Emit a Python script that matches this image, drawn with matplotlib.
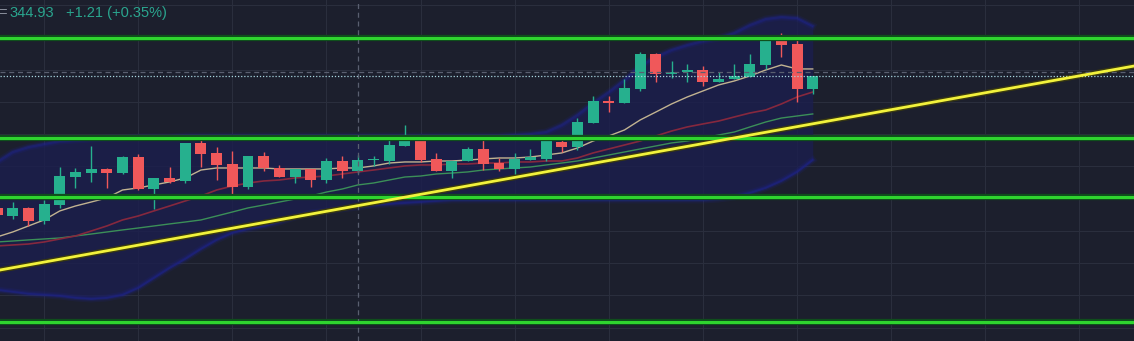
import matplotlib.pyplot as plt

# candles (price units), left to right
opens = [332.64, 331.89, 332.64, 331.42, 332.91, 335.52, 335.89, 336.27, 335.89, 337.38,
         334.40, 335.43, 335.15, 338.69, 337.76, 336.73, 334.59, 337.48, 336.36, 335.52,
         336.27, 335.24, 337.01, 336.08, 337.06, 337.01, 338.41, 338.87, 337.20, 336.08,
         337.01, 338.13, 336.82, 336.27, 337.10, 337.20, 338.78, 338.31, 340.55, 342.60,
         342.41, 343.71, 346.97, 345.11, 345.30, 345.48, 344.37, 344.65, 344.83, 345.95,
         348.46, 347.90, 343.72]
highs = [332.91, 333.19, 332.73, 333.38, 336.45, 336.36, 338.41, 336.36, 337.48, 337.66,
         335.43, 336.45, 338.69, 339.06, 338.31, 337.94, 337.48, 337.85, 336.64, 336.27,
         336.27, 337.29, 337.48, 337.57, 337.48, 338.97, 340.36, 339.34, 337.76, 337.01,
         338.31, 339.15, 337.29, 337.76, 338.13, 339.25, 339.06, 341.01, 343.06, 343.06,
         344.65, 347.16, 347.07, 346.32, 346.04, 345.86, 345.30, 346.04, 346.97, 348.46,
         348.93, 348.37, 344.93]
lows = [331.70, 331.61, 330.96, 331.15, 332.64, 334.50, 335.06, 334.50, 335.80, 334.31,
        332.54, 334.96, 334.96, 336.45, 335.24, 333.66, 334.40, 336.08, 335.52, 334.96,
        334.59, 334.96, 335.43, 335.89, 336.55, 336.73, 338.41, 336.92, 336.08, 335.43,
        337.01, 336.17, 336.08, 335.71, 337.10, 337.01, 337.85, 338.04, 340.55, 341.57,
        342.41, 343.53, 344.37, 344.74, 344.37, 343.99, 344.37, 344.65, 344.83, 345.58,
        346.69, 342.50, 343.25]
closes = [331.98, 332.64, 331.42, 333.01, 335.61, 335.99, 336.27, 335.89, 337.38, 334.40,
          335.43, 335.06, 338.69, 337.66, 336.64, 334.59, 337.48, 336.36, 335.52, 336.27,
          335.24, 337.01, 336.08, 337.10, 337.15, 338.50, 338.87, 337.10, 336.08, 337.01,
          338.13, 336.73, 336.27, 337.20, 337.38, 338.87, 338.31, 340.64, 342.60, 342.41,
          343.81, 346.97, 345.11, 345.30, 345.48, 344.37, 344.65, 344.93, 346.04, 348.46,
          347.81, 343.71, 344.93]

# moving averages
ma_fast = [329.94, 330.40, 330.96, 331.52, 332.36, 332.82, 333.19, 333.57, 334.31, 334.50,
           334.78, 335.06, 335.43, 336.17, 336.36, 336.36, 336.36, 336.36, 336.27, 336.27,
           336.27, 336.27, 336.36, 336.36, 336.55, 336.82, 336.92, 336.92, 337.01, 337.01,
           337.10, 337.20, 337.29, 337.29, 337.38, 337.57, 337.76, 338.22, 338.87, 339.34,
           339.90, 340.83, 341.57, 342.32, 342.97, 343.53, 344.09, 344.46, 344.93, 345.48,
           345.95, 345.58, 345.58]
ma_mid = [329.10, 329.19, 329.28, 329.47, 329.75, 330.03, 330.49, 330.96, 331.52, 331.89,
          332.36, 332.82, 333.29, 333.75, 334.31, 334.68, 334.96, 335.15, 335.24, 335.43,
          335.52, 335.61, 335.80, 335.99, 336.17, 336.36, 336.55, 336.64, 336.64, 336.73,
          336.73, 336.82, 336.82, 336.92, 336.92, 337.01, 337.01, 337.29, 337.76, 338.13,
          338.50, 338.87, 339.34, 339.80, 340.18, 340.46, 340.73, 341.11, 341.48, 341.76,
          342.32, 342.97, 343.43]
ma_slow = [329.47, 329.56, 329.66, 329.75, 329.84, 330.03, 330.21, 330.40, 330.59, 330.77,
           330.96, 331.15, 331.33, 331.52, 331.89, 332.26, 332.64, 332.91, 333.19, 333.47,
           333.75, 334.12, 334.40, 334.78, 334.96, 335.24, 335.52, 335.61, 335.80, 335.89,
           335.99, 336.17, 336.27, 336.36, 336.45, 336.64, 336.82, 337.01, 337.29, 337.57,
           337.85, 338.13, 338.41, 338.69, 338.87, 339.15, 339.43, 339.71, 340.18, 340.64,
           341.01, 341.20, 341.39]

# bollinger bands
bb_upper = [336.92, 337.85, 338.31, 338.59, 338.87, 338.97, 339.06, 339.15, 339.15, 339.25,
            339.25, 339.25, 339.34, 339.34, 339.34, 339.34, 339.34, 339.34, 339.34, 339.34,
            339.34, 339.34, 339.34, 339.34, 339.34, 339.34, 339.34, 339.34, 339.34, 339.34,
            339.34, 339.34, 339.34, 339.43, 339.52, 339.71, 340.36, 341.29, 342.41, 343.43,
            344.55, 345.86, 346.69, 347.35, 347.81, 348.18, 348.46, 348.93, 349.67, 350.23,
            350.42, 350.32, 349.58]
bb_lower = [325.00, 324.82, 324.63, 324.54, 324.44, 324.26, 324.16, 324.26, 324.54, 325.19,
            326.12, 327.05, 327.89, 328.82, 329.66, 330.31, 330.68, 330.96, 331.33, 331.80,
            332.17, 332.36, 332.54, 332.73, 332.91, 333.01, 333.10, 333.19, 333.29, 333.38,
            333.38, 333.38, 333.38, 333.38, 333.38, 333.38, 333.38, 333.38, 333.38, 333.38,
            333.38, 333.38, 333.38, 333.38, 333.38, 333.38, 333.47, 333.66, 334.03, 334.50,
            335.15, 335.99, 337.10]

# drawn levels / trendline
levels = [348.46, 339.15, 333.66, 322.02]
trend_a = (0, 326.81)
trend_b = (70, 345.20)
last_price = 344.93
cross_price = 345.30
cross_bar = 23
price_txt = "344.93"
change_txt = "+1.21 (+0.35%)"

bg = "#1c1f2d"
up_col = "#26b08e"
down_col = "#f0585a"

fig = plt.figure(figsize=(11.34, 3.41), dpi=100)
fig.patch.set_facecolor(bg)
ax = fig.add_axes([0, 0, 1, 1])
ax.set_facecolor(bg)
ax.set_xlim(0.19, 72.48)
ax.set_ylim(320.25, 352.0)
ax.axis("off")

# grid
for gx in range(3, 73, 6):
    ax.axvline(gx, color="#2a2e3d", lw=0.8, zorder=0)
for k in range(11):
    ax.axhline(321.5 + 3 * k, color="#2a2e3d", lw=0.8, zorder=0)

n = len(opens)
xs = list(range(n))

# bollinger band (soft, glowing edges)
ax.fill_between(xs, bb_lower, bb_upper, color="#1b1e4e", alpha=0.8, lw=0, zorder=1)
for lw_, a_ in [(5, 0.12), (3, 0.2), (1.5, 0.35)]:
    ax.plot(xs, bb_upper, color="#1f25a0", lw=lw_, alpha=a_, zorder=1)
    ax.plot(xs, bb_lower, color="#1f25a0", lw=lw_, alpha=a_, zorder=1)

# moving averages
ax.plot(xs, ma_slow, color="#3b8f58", lw=1.0, zorder=2)
ax.plot(xs, ma_mid, color="#86283e", lw=1.2, zorder=2)
ax.plot(xs, ma_fast, color="#c2b391", lw=1.0, zorder=2)

# candles
for i in range(n):
    o, h, l, c = opens[i], highs[i], lows[i], closes[i]
    col = up_col if c >= o else down_col
    ax.vlines(i, l, h, color=col, lw=1.0, zorder=3)
    body = max(abs(c - o), 0.1)
    ax.bar(i, body, bottom=min(o, c), width=0.7, color=col, lw=0, zorder=4)

# horizontal levels
for lv in levels:
    ax.axhline(lv, color="#0f4d1c", lw=4.5, zorder=5)
    ax.axhline(lv, color="#2fd42f", lw=2.2, zorder=6)

# trendline
ax.axline(trend_a, trend_b, color="#3a3a10", lw=4, zorder=5)
ax.axline(trend_a, trend_b, color="#f2f23c", lw=2.0, zorder=6)

# last price / crosshair
ax.axhline(cross_price, color="#5a5f70", lw=0.9, ls=(0, (4, 3)), zorder=5)
ax.axhline(last_price, color="#a9d6e0", lw=0.9, ls=(0, (1, 1.5)), zorder=5)
ax.axvline(cross_bar, color="#5a5f70", lw=0.9, ls=(0, (4, 3)), zorder=5)

# header
fig.text(-2 / 1134, 1 - 13 / 341, "=", color="#8a8f9c", fontsize=10.5,
         family="Liberation Sans", va="center", ha="left")
fig.text(9 / 1134, 1 - 13 / 341, price_txt, color="#2aa58e", fontsize=10.5,
         family="Liberation Sans", va="center", ha="left")
fig.text(66 / 1134, 1 - 13 / 341, change_txt, color="#2aa58e", fontsize=10.5,
         family="Liberation Sans", va="center", ha="left")

fig.savefig("out.png", dpi=100, facecolor=bg)
